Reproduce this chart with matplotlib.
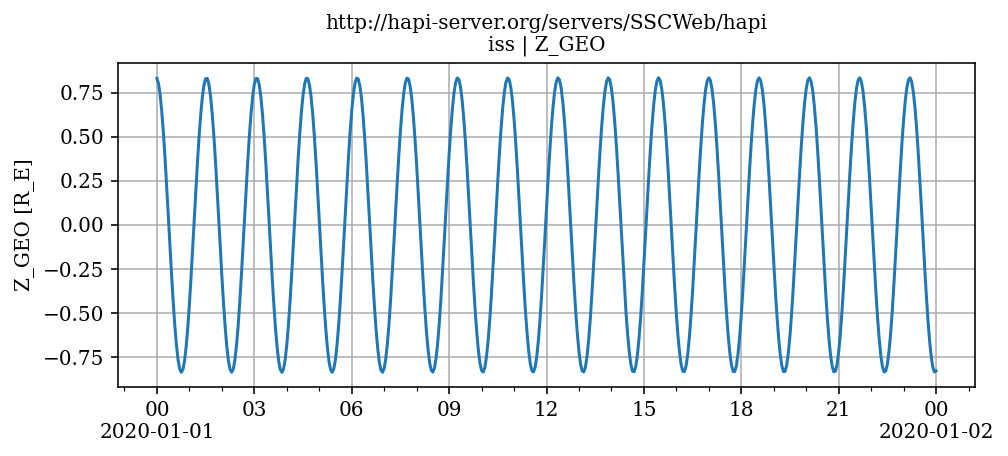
import matplotlib
matplotlib.use("Agg")
import matplotlib.pyplot as plt
import matplotlib.dates as mdates
import pandas as pd

# ISS Z_GEO [R_E], samples every 3 minutes from 2020-01-01 00:00 to 2020-01-02 00:00
start_time = "2020-01-01 00:00"
step_minutes = 3
z_geo = [
    0.833, 0.801, 0.736, 0.641, 0.520, 0.377, 0.219, 0.052, -0.117, -0.282,
    -0.434, -0.570, -0.681, -0.765, -0.817, -0.836, -0.820, -0.771, -0.690, -0.581,
    -0.448, -0.296, -0.132, 0.037, 0.204, 0.364, 0.508, 0.631, 0.729, 0.796,
    0.831, 0.832, 0.799, 0.732, 0.636, 0.514, 0.370, 0.211, 0.044, -0.125,
    -0.290, -0.442, -0.576, -0.686, -0.768, -0.819, -0.836, -0.819, -0.768, -0.685,
    -0.575, -0.440, -0.288, -0.124, 0.045, 0.213, 0.371, 0.515, 0.637, 0.733,
    0.799, 0.832, 0.831, 0.796, 0.728, 0.630, 0.507, 0.362, 0.203, 0.035,
    -0.134, -0.297, -0.449, -0.582, -0.691, -0.772, -0.821, -0.836, -0.817, -0.764,
    -0.680, -0.568, -0.433, -0.280, -0.116, 0.054, 0.221, 0.379, 0.521, 0.642,
    0.737, 0.801, 0.833, 0.830, 0.793, 0.724, 0.625, 0.500, 0.355, 0.195,
    0.027, -0.142, -0.305, -0.456, -0.588, -0.696, -0.775, -0.822, -0.836, -0.815,
    -0.761, -0.675, -0.562, -0.426, -0.272, -0.107, 0.062, 0.229, 0.386, 0.528,
    0.648, 0.741, 0.804, 0.834, 0.829, 0.791, 0.720, 0.619, 0.493, 0.347,
    0.187, 0.019, -0.150, -0.313, -0.463, -0.594, -0.700, -0.778, -0.824, -0.836,
    -0.813, -0.757, -0.670, -0.556, -0.419, -0.264, -0.099, 0.070, 0.237, 0.394,
    0.534, 0.653, 0.745, 0.806, 0.834, 0.828, 0.788, 0.716, 0.614, 0.487,
    0.340, 0.178, 0.010, -0.159, -0.321, -0.470, -0.600, -0.705, -0.781, -0.825,
    -0.835, -0.811, -0.754, -0.665, -0.550, -0.412, -0.256, -0.091, 0.079, 0.245,
    0.401, 0.541, 0.658, 0.749, 0.808, 0.835, 0.827, 0.785, 0.711, 0.608,
    0.480, 0.332, 0.170, 0.002, -0.167, -0.329, -0.477, -0.605, -0.709, -0.784,
    -0.826, -0.835, -0.809, -0.750, -0.660, -0.543, -0.404, -0.248, -0.082, 0.087,
    0.253, 0.408, 0.547, 0.663, 0.752, 0.810, 0.835, 0.826, 0.782, 0.707,
    0.602, 0.473, 0.324, 0.162, -0.007, -0.175, -0.336, -0.484, -0.611, -0.714,
    -0.787, -0.828, -0.834, -0.807, -0.746, -0.655, -0.537, -0.397, -0.240, -0.074,
    0.095, 0.261, 0.416, 0.553, 0.668, 0.756, 0.812, 0.836, 0.824, 0.779,
    0.702, 0.596, 0.466, 0.316, 0.154, -0.015, -0.183, -0.344, -0.491, -0.617,
    -0.718, -0.790, -0.829, -0.834, -0.805, -0.743, -0.650, -0.530, -0.389, -0.232,
    -0.066, 0.104, 0.269, 0.423, 0.560, 0.673, 0.759, 0.814, 0.836, 0.823,
    0.776, 0.697, 0.590, 0.459, 0.308, 0.145, -0.023, -0.191, -0.352, -0.497,
    -0.623, -0.722, -0.792, -0.830, -0.833, -0.802, -0.739, -0.644, -0.524, -0.382,
    -0.224, -0.057, 0.112, 0.277, 0.430, 0.566, 0.678, 0.763, 0.816, 0.836,
    0.821, 0.773, 0.693, 0.584, 0.452, 0.301, 0.137, -0.032, -0.200, -0.359,
    -0.504, -0.628, -0.726, -0.795, -0.831, -0.832, -0.800, -0.735, -0.639, -0.517,
    -0.374, -0.216, -0.049, 0.121, 0.285, 0.437, 0.572, 0.683, 0.766, 0.818,
    0.836, 0.820, 0.770, 0.688, 0.578, 0.445, 0.293, 0.129, -0.040, -0.208,
    -0.367, -0.511, -0.634, -0.731, -0.798, -0.832, -0.832, -0.798, -0.731, -0.634,
    -0.511, -0.367, -0.208, -0.040, 0.129, 0.293, 0.445, 0.578, 0.688, 0.770,
    0.820, 0.836, 0.818, 0.766, 0.683, 0.572, 0.437, 0.285, 0.121, -0.049,
    -0.216, -0.374, -0.517, -0.639, -0.735, -0.800, -0.832, -0.831, -0.795, -0.726,
    -0.628, -0.504, -0.359, -0.200, -0.032, 0.137, 0.301, 0.452, 0.584, 0.693,
    0.773, 0.821, 0.836, 0.816, 0.763, 0.678, 0.566, 0.430, 0.277, 0.112,
    -0.057, -0.224, -0.382, -0.524, -0.644, -0.739, -0.802, -0.833, -0.830, -0.792,
    -0.722, -0.623, -0.497, -0.352, -0.192, -0.023, 0.145, 0.308, 0.459, 0.590,
    0.697, 0.776, 0.823, 0.836, 0.814, 0.759, 0.673, 0.560, 0.423, 0.269,
    0.104, -0.065, -0.232, -0.389, -0.530, -0.650, -0.743, -0.805, -0.834, -0.829,
    -0.790, -0.718, -0.617, -0.491, -0.344, -0.183, -0.015, 0.154, 0.316, 0.466,
    0.596, 0.702, 0.779, 0.824, 0.836, 0.812, 0.756, 0.668, 0.554, 0.416,
    0.261, 0.096, -0.074, -0.240, -0.397, -0.537, -0.655, -0.746, -0.807, -0.834,
    -0.828,
]
title_text = "http://hapi-server.org/servers/SSCWeb/hapi\niss | Z_GEO"
ylabel_text = "Z_GEO [R_E]"
yticks = [-0.75, -0.5, -0.25, 0, 0.25, 0.5, 0.75]

times = pd.date_range(start=start_time, periods=len(z_geo), freq=f"{step_minutes}min")

plt.rcParams["font.family"] = "DejaVu Serif"
plt.rcParams["mathtext.fontset"] = "dejavuserif"

fig = plt.figure(figsize=(7, 456 / 144), dpi=144)
ax = fig.add_axes([118 / 1008, 1 - 387 / 456, (975 - 118) / 1008, (387 - 63) / 456])

ax.plot(times.to_pydatetime(), z_geo, color="#1f77b4", linewidth=1.5)

ax.xaxis.set_major_locator(mdates.HourLocator(byhour=range(0, 24, 3)))
ax.xaxis.set_minor_locator(mdates.HourLocator(byhour=range(24)))


def fmt(x, pos=None):
    d = mdates.num2date(x)
    if d.hour == 0:
        return d.strftime("%H\n%Y-%m-%d")
    return d.strftime("%H")


ax.xaxis.set_major_formatter(plt.FuncFormatter(fmt))
ax.set_yticks(yticks)
ax.grid(True, which="major")
ax.set_ylabel(ylabel_text)
ax.set_title(title_text, fontsize=10)

fig.savefig("out.png", dpi=144)
